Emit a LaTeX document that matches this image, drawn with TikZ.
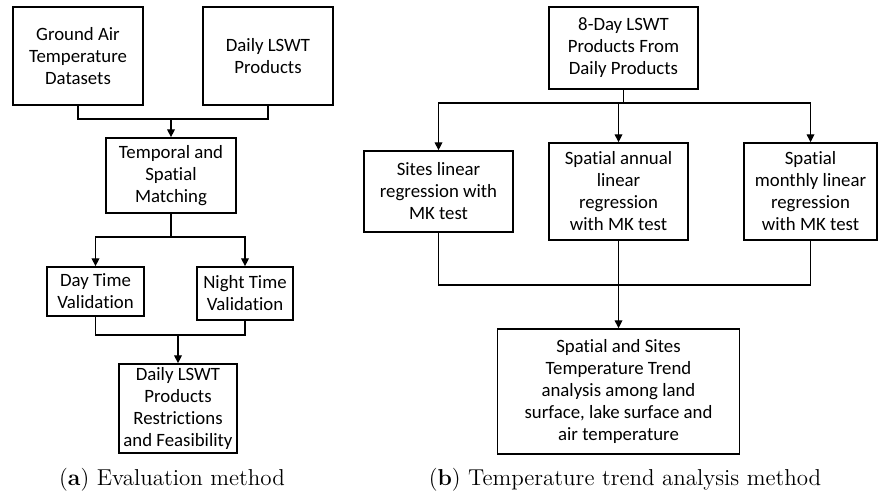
\documentclass[tikz,border=0pt]{standalone}
\usepackage{fontspec}
\usepackage{tikz}
\usetikzlibrary{arrows.meta}
\newfontfamily\boxfont[Ligatures=NoCommon]{Carlito}

\begin{document}
\begin{tikzpicture}[x=0.5pt, y=-0.5pt, line width=0.7pt,
    box/.style={draw, align=center, inner sep=0pt, font=\boxfont\fontsize{9.4}{11}\selectfont},
    arr/.style={-{Triangle[length=4pt,width=3.8pt]}},
    captext/.style={font=\fontsize{11.5}{14}\selectfont}]
  \useasboundingbox (0,0) rectangle (878,501);
  % (a) evaluation
  \node[box, minimum width=65pt, minimum height=49pt] (gat) at (78,56) {Ground Air\\Temperature\\Datasets};
  \node[box, minimum width=65pt, minimum height=49pt] (dly) at (268,56) {Daily LSWT\\Products};
  \node[box, minimum width=65pt, minimum height=37.5pt] (tsm) at (171,175.5) {Temporal and\\Spatial\\Matching};
  \node[box, minimum width=48.5pt, minimum height=24.5pt] (day) at (95.5,291.5) {Day Time\\Validation};
  \node[box, minimum width=48pt, minimum height=26.5pt] (night) at (245,293.5) {Night Time\\Validation};
  \node[box, minimum width=59pt, minimum height=44.5pt] (res) at (178,408.5) {Daily LSWT\\Products\\Restrictions\\and Feasibility};
  \coordinate (j1) at (171,119);
  \coordinate (j2) at (171,237);
  \coordinate (j3) at (178,335);
  \draw (gat.south) |- (j1) -| (dly.south);
  \draw[arr] (j1) -- (tsm.north);
  \draw (tsm.south) -- (j2);
  \draw[arr] (j2) -| (day.north);
  \draw[arr] (j2) -| (night.north);
  \draw (day.south) |- (j3) -| (night.south);
  \draw[arr] (j3) -- (res.north);
  \node[captext] (capa) at (172,480) {(\textbf{a}) Evaluation method};
  % (b) trend analysis
  \node[box, minimum width=74.5pt, minimum height=41pt] (eight) at (623.5,48) {8-Day LSWT\\Products From\\Daily Products};
  \node[box, minimum width=74.5pt, minimum height=40.5pt] (sites) at (438.5,191.5) {Sites linear\\regression with\\MK test};
  \node[box, minimum width=69.5pt, minimum height=48.5pt] (annual) at (618.5,191.5) {Spatial annual\\linear\\regression\\with MK test};
  \node[box, minimum width=66.5pt, minimum height=48.5pt] (monthly) at (810.5,191.5) {Spatial\\monthly linear\\regression\\with MK test};
  \node[box, minimum width=121pt, minimum height=62.5pt] (final) at (618.5,391.5) {Spatial and Sites\\Temperature Trend\\analysis among land\\surface, lake surface and\\air temperature};
  \coordinate (j4) at (623.5,103);
  \coordinate (j5) at (618.5,285);
  \draw (eight.south) -- (j4);
  \draw[arr] (j4) -| (sites.north);
  \draw[arr] (j4) -| (annual.north);
  \draw[arr] (j4) -| (monthly.north);
  \draw (sites.south) |- (j5) -| (monthly.south);
  \draw (annual.south) -- (j5);
  \draw[arr] (j5) -- (final.north);
  \node[captext] (capb) at (625,480) {(\textbf{b}) Temperature trend analysis method};
\end{tikzpicture}
\end{document}
